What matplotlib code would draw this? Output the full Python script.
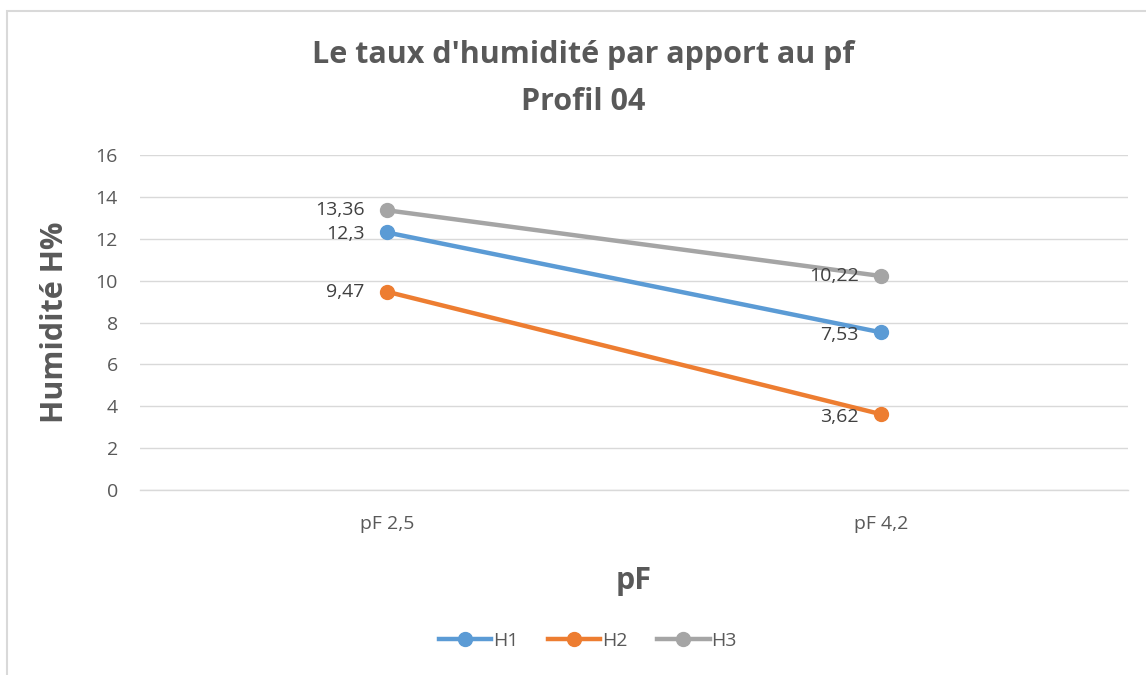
import matplotlib.pyplot as plt
from matplotlib.patches import Rectangle

categories = ['pF 2,5', 'pF 4,2']
h1 = [12.3, 7.53]
h2 = [9.47, 3.62]
h3 = [13.36, 10.22]
series = {'H1': h1, 'H2': h2, 'H3': h3}
colors = {'H1': '#5B9BD5', 'H2': '#ED7D31', 'H3': '#A5A5A5'}
yticks = list(range(0, 17, 2))

plt.rcParams['font.family'] = ['Open Sans', 'DejaVu Sans']
grey = '#595959'

fig = plt.figure(figsize=(11.46, 6.75), dpi=100)
fig.patches.append(Rectangle((7 / 1146, -0.1), 1.2, (675 - 11) / 675 + 0.1,
                             transform=fig.transFigure, fill=False,
                             edgecolor='#D9D9D9', linewidth=1.5))
ax = fig.add_axes([140 / 1146, 1 - 490 / 675, 988 / 1146, 335 / 675])

x = range(len(categories))
for name, vals in series.items():
    ax.plot(x, vals, color=colors[name], linewidth=3.2, marker='o',
            markersize=10, label=name, zorder=3)

def fmt(v):
    return ('%g' % v).replace('.', ',')

# data labels, left of the points
offsets = {'H1': [(-16, -1), (-16, -2)], 'H2': [(-16, 0), (-16, -2)],
           'H3': [(-16, 0), (-16, 0)]}
for name, vals in series.items():
    for i, v in enumerate(vals):
        ax.annotate(fmt(v), (i, v), xytext=offsets[name][i],
                    textcoords='offset points', ha='right', va='center',
                    fontsize=14, color='#404040')

ax.set_xlim(-0.5, 1.5)
ax.set_ylim(0, 16)
ax.set_yticks(yticks)
ax.set_xticks(list(x))
ax.set_xticklabels(categories)
ax.grid(axis='y', color='#D9D9D9', linewidth=1)
ax.axhline(0, color='#D9D9D9', linewidth=1, clip_on=False, zorder=0)
ax.set_axisbelow(True)
for s in ax.spines.values():
    s.set_visible(False)
ax.tick_params(length=0, labelsize=14, colors=grey, pad=16)
ax.tick_params(axis='x', pad=18)

ax.set_ylabel('Humidité H%', fontsize=22, fontweight='bold', color=grey,
              labelpad=18)
ax.set_xlabel('pF', fontsize=22, fontweight='bold', color=grey, labelpad=24)

fig.text(0.509, 1 - 55 / 675, "Le taux d'humidité par apport au pf",
         ha='center', va='center', fontsize=22, fontweight='bold', color=grey)
fig.text(0.509, 1 - 102 / 675, 'Profil 04', ha='center', va='center',
         fontsize=22, fontweight='bold', color=grey)

fig.legend(loc='center', bbox_to_anchor=(0.513, 1 - 641 / 675), ncol=3,
           frameon=False, fontsize=14, labelcolor=grey, handlelength=2.7,
           columnspacing=1.5, handletextpad=0.1)

fig.savefig('out.png', dpi=100)
